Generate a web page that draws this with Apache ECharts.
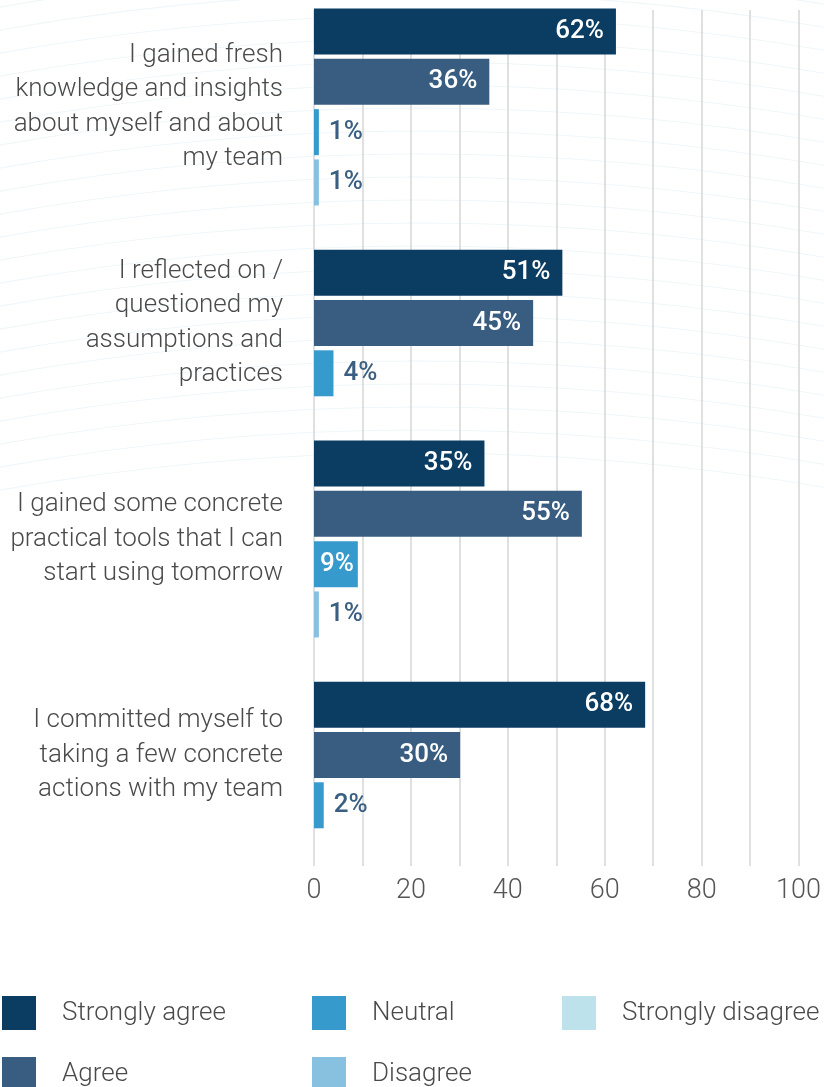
<!DOCTYPE html>
<html>
<head>
<meta charset="utf-8">
<script src="https://cdn.jsdelivr.net/npm/echarts@6/dist/echarts.min.js"></script>
<style>
html,body{margin:0;padding:0;background:#fff;}
#chart{width:824px;height:1087px;}
</style>
</head>
<body>
<div id="chart"></div>
<script>
// ---- data ----
const categories = [
  'I gained fresh\nknowledge and insights\nabout myself and about\nmy team',
  'I reflected on /\nquestioned my\nassumptions and\npractices',
  'I gained some concrete\npractical tools that I can\nstart using tomorrow',
  'I committed myself to\ntaking a few concrete\nactions with my team'
];
const seriesNames = ['Strongly agree', 'Agree', 'Neutral', 'Disagree', 'Strongly disagree'];
const stronglyAgree = [62, 51, 35, 68];
const agree = [36, 45, 55, 30];
const neutral = [1, 4, 9, 2];
const disagree = [1, null, 1, null];
const stronglyDisagree = [null, null, null, null];
const xTickLabels = [0, 20, 40, 60, 80, 100];

// ---- styles / layout ----
const colors = ['#0b3d63', '#385d80', '#379acd', '#88c0df', '#bde2ec'];
const FONT = 'Roboto';
const textColor = '#4a4a4a';
const outsideLabelColor = '#3a5f82';
const plotLeft = 314, plotRight = 23, plotTop = 10, plotBottom = 221;
const bandTop = -1, bandH = 216, rowH = 50.3, barW = 46;

const allValues = [stronglyAgree, agree, neutral, disagree, stronglyDisagree];

const grids = [{left: plotLeft, right: plotRight, top: plotTop, bottom: plotBottom}];
const xAxes = [{
  type: 'value', gridIndex: 0, min: 0, max: 100, interval: 10,
  axisLine: {show: false}, axisTick: {show: false},
  splitLine: {show: true, lineStyle: {color: '#d6d6d6', width: 1.5}},
  axisLabel: {
    margin: 12, fontFamily: FONT, fontWeight: 300, fontSize: 27, color: '#555',
    formatter: v => (xTickLabels.indexOf(v) >= 0 ? String(v) : '')
  }
}];
const yAxes = [{type: 'value', gridIndex: 0, show: false}];
const series = [];

categories.forEach((cat, g) => {
  const rows = [];
  allValues.forEach((arr, k) => { if (arr[g] != null) rows.push(k); });
  const n = rows.length;
  const gi = grids.length;
  const center = bandTop + bandH * (g + 0.5);
  grids.push({left: plotLeft, right: plotRight, top: center - n * rowH / 2, height: n * rowH});
  xAxes.push({type: 'value', gridIndex: gi, min: 0, max: 100, show: false});
  const yBars = yAxes.length;
  yAxes.push({type: 'category', gridIndex: gi, inverse: true, show: false, data: rows.map(k => seriesNames[k])});
  yAxes.push({
    type: 'category', gridIndex: gi, data: [cat], position: 'left',
    axisLine: {show: false}, axisTick: {show: false}, splitLine: {show: false},
    axisLabel: {margin: 31, fontFamily: FONT, fontWeight: 300, fontSize: 26, lineHeight: 34.5, color: textColor, align: 'right'}
  });
  rows.forEach(k => {
    const v = allValues[k][g];
    const inside = v >= 6;
    series.push({
      type: 'bar', name: seriesNames[k], xAxisIndex: gi, yAxisIndex: yBars,
      stack: 'grp' + g, barWidth: barW,
      itemStyle: {color: colors[k]},
      label: {
        show: true,
        position: inside ? 'insideRight' : 'right',
        distance: inside ? (v < 15 ? 4 : 12) : 10,
        formatter: '{c}%',
        fontFamily: FONT, fontWeight: 500, fontSize: 26,
        color: inside ? '#ffffff' : outsideLabelColor
      },
      data: rows.map(r => (r === k ? v : '-'))
    });
  });
});
// legend-only entry for categories with no bars
seriesNames.forEach((name, k) => {
  if (!series.some(s => s.name === name)) {
    series.push({type: 'bar', name, xAxisIndex: 1, yAxisIndex: 1, stack: 'grp0', itemStyle: {color: colors[k]}, data: []});
  }
});

// legend: 3-column grid, one legend component per entry
const legendCols = [2, 312, 562];
const legendRows = [996, 1057];
const legendSlots = [[0, 0], [0, 1], [1, 0], [1, 1], [2, 0]]; // [col,row] per series
const legends = seriesNames.map((name, k) => ({
  orient: 'horizontal', padding: 0,
  left: legendCols[legendSlots[k][0]], top: legendRows[legendSlots[k][1]],
  itemWidth: 34, itemHeight: 34, icon: 'rect', selectedMode: false,
  textStyle: {fontFamily: FONT, fontWeight: 300, fontSize: 26, color: textColor, padding: [0, 0, 0, 21]},
  data: [name]
}));

// faint decorative arcs in the background
const arcs = [];
for (let i = 0; i < 22; i++) {
  const R = 2400;
  const topY = -30 + i * 23;
  arcs.push({type: 'circle', z: -10, silent: true,
    shape: {cx: 420, cy: topY + R, r: R},
    style: {fill: 'none', stroke: '#f0f6fa', lineWidth: 1.2}});
}

const chart = echarts.init(document.getElementById('chart'), null, {renderer: 'canvas'});
chart.setOption({
  animation: false,
  backgroundColor: '#ffffff',
  graphic: arcs,
  grid: grids,
  xAxis: xAxes,
  yAxis: yAxes,
  legend: legends,
  series: series
});
</script>
</body>
</html>
